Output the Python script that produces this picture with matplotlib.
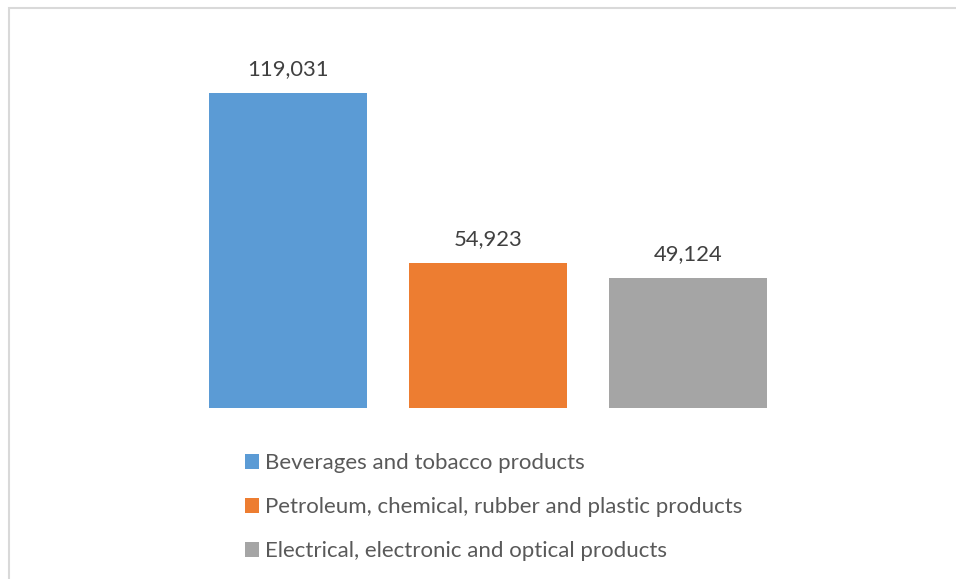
import numpy as np
import matplotlib.pyplot as plt
from matplotlib.patches import Rectangle

# --- data ---
categories = ['Beverages and tobacco products',
              'Petroleum, chemical, rubber and plastic products',
              'Electrical, electronic and optical products']
values = [119031, 54923, 49124]
colors = ['#5B9BD5', '#ED7D31', '#A5A5A5']

plt.rcParams['font.family'] = ['Lato', 'DejaVu Sans']

W, H = 956, 579
fig = plt.figure(figsize=(W / 100, H / 100), dpi=100)
fig.patch.set_facecolor('white')

# light grey chart-area border (clipped on the right and bottom)
fig.patches.append(Rectangle((8.5 / W, -0.1), 2.0, 1.1 - 8.5 / H,
                             transform=fig.transFigure, fill=False,
                             edgecolor='#d9d9d9', linewidth=1.5))

# axes placed so the baseline sits at y=408 px and bars are 158 px wide
ax = fig.add_axes([188 / W, (H - 408) / H, 600 / W, 370.5 / H])
x = np.arange(len(values))
bars = ax.bar(x, values, width=0.79, color=colors, label=categories)
ax.set_xlim(-0.5, 2.5)
ax.set_ylim(0, 140000)
ax.axis('off')

for b, v in zip(bars, values):
    ax.annotate(f'{v:,}', (b.get_x() + b.get_width() / 2, v),
                xytext=(0, 10), textcoords='offset points',
                ha='center', va='bottom', fontsize=15.8, color='#404040')

fig.legend(handles=bars, labels=categories, loc='upper left',
           bbox_to_anchor=(234 / W, (H - 442) / H), frameon=False,
           fontsize=16, labelcolor='#595959', handlelength=0.63,
           handleheight=0.63, handletextpad=0.27, labelspacing=1.08,
           borderpad=0)

plt.savefig('out.png', dpi=100)
